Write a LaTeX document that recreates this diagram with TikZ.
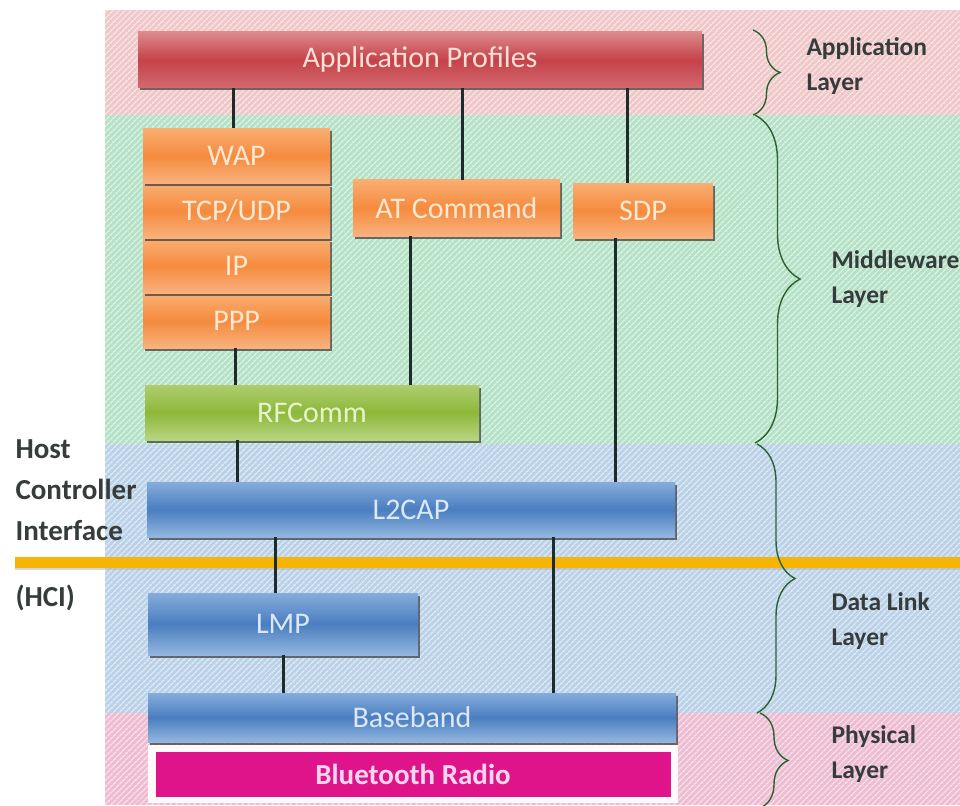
\documentclass[tikz,border=0pt]{standalone}
\usepackage{fontspec}
\setmainfont{Carlito}
\usetikzlibrary{shadows,decorations.pathreplacing,patterns.meta}

% band colours
\definecolor{bandapp}{HTML}{F0C8C9}
\definecolor{bandmid}{HTML}{B5E2C6}
\definecolor{bandlink}{HTML}{BBD2E8}
\definecolor{bandphy}{HTML}{EFBDD2}
% box colours
\definecolor{redtop}{HTML}{DC8A8C}
\definecolor{redmid}{HTML}{C5424A}
\definecolor{redbot}{HTML}{D4696F}
\definecolor{redtext}{HTML}{FBE0D8}
\definecolor{orgtop}{HTML}{F9AE72}
\definecolor{orgmid}{HTML}{F58B3E}
\definecolor{orgbot}{HTML}{F9B27E}
\definecolor{orgtext}{HTML}{FDE8D2}
\definecolor{grntop}{HTML}{AFCD6E}
\definecolor{grnmid}{HTML}{8DB83A}
\definecolor{grnbot}{HTML}{B8D483}
\definecolor{grntext}{HTML}{E8F3CC}
\definecolor{blutop}{HTML}{86ACDC}
\definecolor{blumid}{HTML}{4A7EC0}
\definecolor{blubot}{HTML}{93B6E0}
\definecolor{blutext}{HTML}{DCE8F6}
\definecolor{radio}{HTML}{DF148B}
\definecolor{radiotext}{HTML}{FCD6EC}
\definecolor{hciyellow}{HTML}{F5B406}
\definecolor{linkline}{HTML}{1E2B2B}
\definecolor{labeltext}{HTML}{363B3B}

\begin{document}
\begin{tikzpicture}[x=1pt,y=-1pt,
  layerbox/.style={inner sep=0pt, outer sep=0pt, font=\fontsize{30}{30}\selectfont,
    drop shadow={shadow xshift=1.5pt, shadow yshift=-2.5pt, fill=black!75, opacity=.75}},
  redbox/.style={layerbox, top color=redtop, bottom color=redbot, middle color=redmid, text=redtext},
  orangebox/.style={layerbox, top color=orgtop, bottom color=orgbot, middle color=orgmid, text=orgtext},
  greenbox/.style={layerbox, top color=grntop, bottom color=grnbot, middle color=grnmid, text=grntext},
  bluebox/.style={layerbox, top color=blutop, bottom color=blubot, middle color=blumid, text=blutext},
  conn/.style={draw=linkline, line width=3pt},
  layerbrace/.style={draw=labeltext!80!green, line width=1.4pt, decorate},
  layerlabel/.style={anchor=base west, align=left, text=labeltext,
    font=\bfseries\fontsize{25.5}{35}\selectfont},
  hcilabel/.style={anchor=base west, text=labeltext, font=\bfseries\fontsize{29}{29}\selectfont}
]
\useasboundingbox (0,0) rectangle (960,805);

% background bands of the four layers
\fill[bandapp]  (105,10)  rectangle (960,115);
\fill[bandmid]  (105,115) rectangle (960,444);
\fill[bandlink] (105,444) rectangle (960,713);
\fill[bandphy]  (105,713) rectangle (960,805);
\fill[pattern={Lines[angle=45,distance=4pt,line width=1.3pt]}, pattern color=white, fill opacity=.6]
  (105,10) rectangle (960,805);

% host controller interface bar
\coordinate (hciL) at (15,562);
\coordinate (hciR) at (960,562);
\draw[line width=12pt, black!30, opacity=.5] ([yshift=-2pt]hciL) -- ([yshift=-2pt]hciR);
\draw[line width=11pt, hciyellow] (hciL) -- (hciR);

% protocol boxes
\node[redbox, minimum width=564pt, minimum height=56pt] (app) at (420,60) {Application Profiles};

\node[orangebox, minimum width=187pt, minimum height=54pt] (ppp) at (236.5,321) {PPP};
\node[orangebox, minimum width=187pt, minimum height=54pt] (ip)  at (236.5,266) {IP};
\node[orangebox, minimum width=187pt, minimum height=54pt] (tcp) at (236.5,211) {TCP/UDP};
\node[orangebox, minimum width=187pt, minimum height=55pt] (wap) at (236.5,156) {WAP};
\node[orangebox, minimum width=207pt, minimum height=56pt] (at)  at (456.5,208) {AT Command};
\node[orangebox, minimum width=140pt, minimum height=55pt] (sdp) at (643,210.5) {SDP};

\node[greenbox, minimum width=334pt, minimum height=55pt] (rfc) at (312,412.5) {RFComm};

\node[bluebox, minimum width=528pt, minimum height=55pt] (l2cap) at (411,509.5) {L2CAP};
\node[bluebox, minimum width=270pt, minimum height=62pt] (lmp) at (283,624) {LMP};
\node[bluebox, minimum width=528pt, minimum height=49pt] (base) at (412,717.5) {Baseband};

\node[fill=white!90!pink, minimum width=530pt, minimum height=58pt, inner sep=0pt] (radioframe) at (413,774) {};
\node[fill=radio, minimum width=515pt, minimum height=45pt, inner sep=0pt, text=radiotext,
  font=\bfseries\fontsize{29}{29}\selectfont] (radio) at (radioframe) {Bluetooth Radio};

% connections between the protocols
\draw[conn] ([xshift=-3.5pt]wap.north) -- ([xshift=-3.5pt]wap.north |- app.south);
\draw[conn] ([xshift=5.5pt]at.north) -- ([xshift=5.5pt]at.north |- app.south);
\draw[conn] ([xshift=-16pt]sdp.north) -- ([xshift=-16pt]sdp.north |- app.south);
\draw[conn] ([xshift=-1.5pt]ppp.south) -- ([xshift=-1.5pt]ppp.south |- rfc.north);
\draw[conn] ([xshift=-46.5pt]at.south) -- ([xshift=-46.5pt]at.south |- rfc.north);
\draw[conn] ([xshift=-75pt]rfc.south) -- ([xshift=-75pt]rfc.south |- l2cap.north);
\draw[conn] ([xshift=-28pt]sdp.south) -- ([xshift=-28pt]sdp.south |- l2cap.north);
\draw[conn] ([xshift=-8pt]lmp.north) -- ([xshift=-8pt]lmp.north |- l2cap.south);
\draw[conn] ([xshift=141pt]base.north) -- ([xshift=141pt]base.north |- l2cap.south);
\draw[conn] (lmp.south) -- (lmp.south |- base.north);

% layer braces and names
\draw[layerbrace, decoration={brace, amplitude=27pt}] (753,30) -- (753,115);
\draw[layerbrace, decoration={brace, amplitude=45pt}] (755,115) -- (755,443);
\draw[layerbrace, decoration={brace, amplitude=38pt}] (757,444) -- (757,713);
\draw[layerbrace, decoration={brace, amplitude=28pt}] (760,713) -- (760,808);

\node[layerlabel] (lapp)  at (803,91)  {Application\\Layer};
\node[layerlabel] (lmid)  at (828,303) {Middleware\\Layer};
\node[layerlabel] (llink) at (828,645) {Data Link\\Layer};
\node[layerlabel] (lphy)  at (828,778) {Physical\\Layer};

% host controller interface caption
\node[hcilabel] (h1) at (12,458) {Host};
\node[hcilabel] (h2) at (12,499) {Controller};
\node[hcilabel] (h3) at (12,540) {Interface};
\node[hcilabel] (h4) at (12,606) {(HCI)};
\end{tikzpicture}
\end{document}
